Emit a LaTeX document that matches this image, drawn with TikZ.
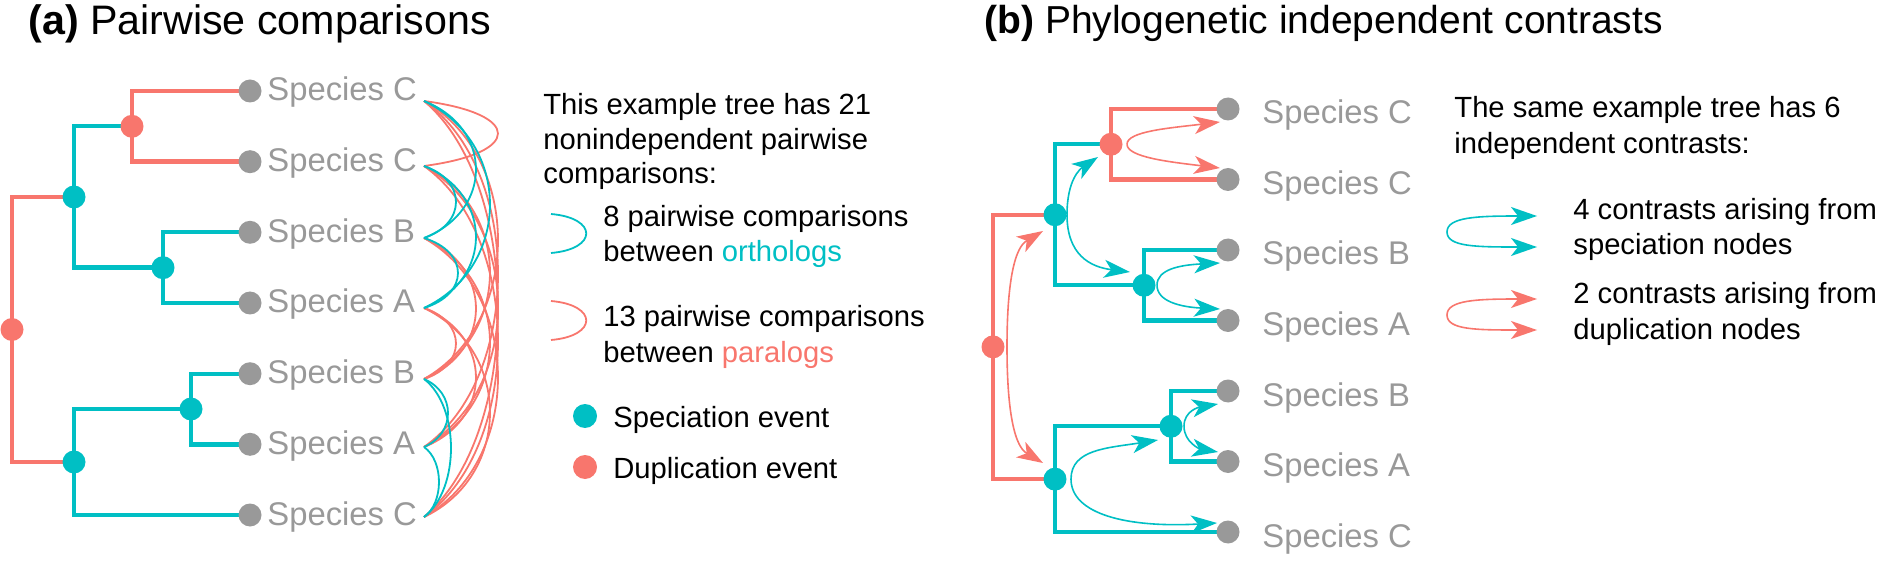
\documentclass[tikz,border=0pt]{standalone}
\usepackage{fontspec}
\setmainfont{Liberation Sans}
\usetikzlibrary{arrows.meta,calc}

\definecolor{spec}{RGB}{0,191,196}
\definecolor{dupl}{RGB}{248,118,109}
\definecolor{tipgray}{RGB}{153,153,153}

\tikzset{
  branch/.style={line width=2.2pt},
  dot/.style={circle, inner sep=0pt, minimum size=11.5pt},
  pair/.style={line width=0.9pt},
  contrast/.style={line width=0.8pt, -{Stealth[length=13pt,width=9pt,inset=3.5pt]}},
  tiplabel/.style={anchor=base west, inner sep=0pt, text=tipgray, font=\fontsize{16.4}{19}\selectfont},
  txt/.style={anchor=base west, inner sep=0pt, font=\fontsize{14.6}{17.5}\selectfont},
  title/.style={anchor=base west, inner sep=0pt},
}

\begin{document}
\begin{tikzpicture}[x=0.5pt, y=-0.5pt]
\useasboundingbox (0,0) rectangle (1885,561);

% ---------- (a) pairwise comparisons ----------
\node[title, font=\fontsize{20.6}{24}\selectfont] (titlea) at (28,35) {\textbf{(a)} Pairwise comparisons};

\foreach \i/\y/\sp/\ya in {1/91/C/101, 2/161.7/C/166, 3/232.3/B/238, 4/303/A/308,
    5/373.7/B/379, 6/444.3/A/447, 7/515/C/517} {
  \coordinate (a\i) at (250,\y);
  \coordinate (p\i) at (424,\ya);
  \node[tiplabel] (la\i) at (267,\y+10) {Species \sp};
}
\coordinate (aroot) at (12,329.5);
\coordinate (aX) at (74,197);
\coordinate (aD) at (132,126.3);
\coordinate (aBA) at (163,267.7);
\coordinate (aY) at (74,462);
\coordinate (aBA2) at (191,409);

\draw[branch, dupl] (aroot) |- (aX) (aroot) |- (aY);
\draw[branch, spec] (aX) |- (aD) (aX) |- (aBA);
\draw[branch, dupl] (aD) |- (a1) (aD) |- (a2);
\draw[branch, spec] (aBA) |- (a3) (aBA) |- (a4);
\draw[branch, spec] (aY) |- (aBA2) (aY) |- (a7);
\draw[branch, spec] (aBA2) |- (a5) (aBA2) |- (a6);

\foreach \n in {aX,aBA,aY,aBA2} \node[dot, fill=spec] (d\n) at (\n) {};
\foreach \n in {aroot,aD} \node[dot, fill=dupl] (d\n) at (\n) {};
\foreach \i in {1,...,7} \node[dot, fill=tipgray] (da\i) at (a\i) {};

% all 21 pairs, paralogs first
\foreach \i/\j/\b in {1/2/74, 1/5/74, 1/6/74, 1/7/74, 2/5/66, 2/6/74, 2/7/74,
    3/5/52, 3/6/66, 3/7/74, 4/5/32, 4/6/52, 4/7/66}
  \draw[pair, color=dupl] (p\i) .. controls ($(p\i)!0.2!(p\j)+(\b*1.333,0)$)
    and ($(p\j)!0.2!(p\i)+(\b*1.333,0)$) .. (p\j);
\foreach \i/\j/\b in {1/3/52, 1/4/66, 2/3/32, 2/4/52, 3/4/34, 5/6/24, 5/7/27, 6/7/15}
  \draw[pair, color=spec] (p\i) .. controls ($(p\i)!0.2!(p\j)+(\b*1.333,0)$)
    and ($(p\j)!0.2!(p\i)+(\b*1.333,0)$) .. (p\j);

% legend (a)
\node[txt] (ia1) at (543,115) {This example tree has 21};
\node[txt] (ia2) at (543,150) {nonindependent pairwise};
\node[txt] (ia3) at (543,184) {comparisons:};
\draw[pair, spec] (551,214) .. controls (598,218) and (598,249) .. (551,253);
\node[txt] (ka1) at (603,227) {8 pairwise comparisons};
\node[txt] (ka2) at (603,262) {between \textcolor{spec}{orthologs}};
\draw[pair, dupl] (551,301) .. controls (598,305) and (598,336) .. (551,340);
\node[txt] (ka3) at (603,327) {13 pairwise comparisons};
\node[txt] (ka4) at (603,363) {between \textcolor{dupl}{paralogs}};
\node[dot, fill=spec, minimum size=12pt] (ka5) at (585,416) {};
\node[txt] (ka6) at (613,427) {Speciation event};
\node[dot, fill=dupl, minimum size=12pt] (ka7) at (585,467) {};
\node[txt] (ka8) at (613,478) {Duplication event};

% ---------- (b) independent contrasts ----------
\node[title, font=\fontsize{19.5}{23}\selectfont] (titleb) at (984,34) {\textbf{(b)} Phylogenetic independent contrasts};

\foreach \i/\y/\sp in {1/109/C, 2/179.5/C, 3/250/B, 4/320.5/A, 5/391/B, 6/461.5/A, 7/532/C} {
  \coordinate (b\i) at (1228,\y);
  \node[tiplabel] (lb\i) at (1262,\y+15) {Species \sp};
}
\coordinate (broot) at (993,346.9);
\coordinate (bX) at (1055,214.75);
\coordinate (bD) at (1111,144.25);
\coordinate (bBA) at (1144,285.25);
\coordinate (bY) at (1055,479.1);
\coordinate (bBA2) at (1171,426.25);

\draw[branch, dupl] (broot) |- (bX) (broot) |- (bY);
\draw[branch, spec] (bX) |- (bD) (bX) |- (bBA);
\draw[branch, dupl] (bD) |- (b1) (bD) |- (b2);
\draw[branch, spec] (bBA) |- (b3) (bBA) |- (b4);
\draw[branch, spec] (bY) |- (bBA2) (bY) |- (b7);
\draw[branch, spec] (bBA2) |- (b5) (bBA2) |- (b6);

\foreach \n in {bX,bBA,bY,bBA2} \node[dot, fill=spec] (d\n) at (\n) {};
\foreach \n in {broot,bD} \node[dot, fill=dupl] (d\n) at (\n) {};
\foreach \i in {1,...,7} \node[dot, fill=tipgray] (db\i) at (b\i) {};

% contrasts: start beside each inner node
\coordinate (cD) at (1127,144.25);
\coordinate (cX) at (1067,214.75);
\coordinate (croot) at (1007,346.9);
\coordinate (cBA) at (1157,285.25);
\coordinate (cY) at (1071,479.1);
\coordinate (cBA2) at (1184,426.25);
\coordinate (eD1) at (1220,122);
\coordinate (eD2) at (1220,168);
\coordinate (eX1) at (1098,157);
\coordinate (eX2) at (1130,272);
\coordinate (eroot1) at (1043,231);
\coordinate (eroot2) at (1043,463);
\coordinate (eBA1) at (1220,263);
\coordinate (eBA2) at (1220,309);
\coordinate (eY1) at (1158,440);
\coordinate (eY2) at (1217,523);
\coordinate (eBB1) at (1218,404);
\coordinate (eBB2) at (1218,452);

\draw[contrast, dupl] (cD) .. controls +(0,-13) and +(-50,6) .. (eD1);
\draw[contrast, dupl] (cD) .. controls +(0,13) and +(-50,-6) .. (eD2);
\draw[contrast, spec] (cX) .. controls +(0,-35) and +(-18,12) .. (eX1);
\draw[contrast, spec] (cX) .. controls +(0,40) and +(-40,-5) .. (eX2);
\draw[contrast, dupl] (croot) .. controls +(0,-95) and +(-20,12) .. (eroot1);
\draw[contrast, dupl] (croot) .. controls +(0,95) and +(-20,-12) .. (eroot2);
\draw[contrast, spec] (cBA) .. controls +(0,-16) and +(-40,2) .. (eBA1);
\draw[contrast, spec] (cBA) .. controls +(0,16) and +(-40,-2) .. (eBA2);
\draw[contrast, spec] (cY) .. controls +(0,-30) and +(-50,8) .. (eY1);
\draw[contrast, spec] (cY) .. controls +(0,35) and +(-90,5) .. (eY2);
\draw[contrast, spec] (cBA2) .. controls +(0,-16) and +(-18,3) .. (eBB1);
\draw[contrast, spec] (cBA2) .. controls +(0,16) and +(-18,-3) .. (eBB2);

% legend (b)
\node[txt] (ib1) at (1454,118) {The same example tree has 6};
\node[txt] (ib2) at (1454,154) {independent contrasts:};
\coordinate (ls) at (1447,232);
\coordinate (ls1) at (1537,216);
\coordinate (ls2) at (1537,247);
\draw[contrast, spec] (ls) .. controls +(0,-15) and +(-60,0) .. (ls1);
\draw[contrast, spec] (ls) .. controls +(0,15) and +(-60,0) .. (ls2);
\node[txt] (kb1) at (1573,220) {4 contrasts arising from};
\node[txt] (kb2) at (1573,255) {speciation nodes};
\coordinate (ld) at (1447,315);
\coordinate (ld1) at (1537,299);
\coordinate (ld2) at (1537,330);
\draw[contrast, dupl] (ld) .. controls +(0,-15) and +(-60,0) .. (ld1);
\draw[contrast, dupl] (ld) .. controls +(0,15) and +(-60,0) .. (ld2);
\node[txt] (kb3) at (1573,304) {2 contrasts arising from};
\node[txt] (kb4) at (1573,340) {duplication nodes};
\end{tikzpicture}
\end{document}
